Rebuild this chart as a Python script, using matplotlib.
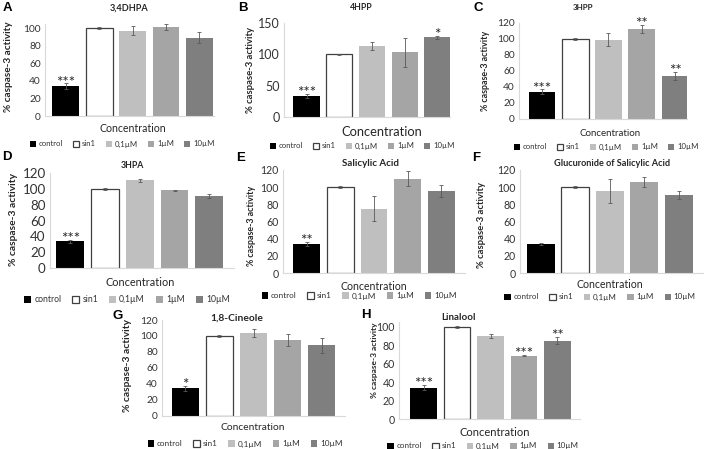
import matplotlib
matplotlib.use("Agg")
import matplotlib.pyplot as plt
from matplotlib.patches import Patch

# data
groups = ["control", "sin1", "0,1µM", "1µM", "10µM"]
titles = ["3,4DHPA", "4HPP", "3HPP", "3HPA", "Salicylic Acid",
          "Glucuronide of Salicylic Acid", "1,8-Cineole", "Linalool"]
letters = ["A", "B", "C", "D", "E", "F", "G", "H"]

mean_A = [34, 100, 97, 101, 89]
err_A = [3, 1, 5, 3, 6]
star_A = ["***", "", "", "", ""]

mean_B = [34, 100, 113, 103, 127]
err_B = [3, 1, 6, 23, 3]
star_B = ["***", "", "", "", "*"]

mean_C = [34, 100, 99, 113, 54]
err_C = [3, 1, 8, 5, 5]
star_C = ["***", "", "", "**", "**"]

mean_D = [34, 100, 111, 98, 91]
err_D = [2, 1, 2, 1, 2]
star_D = ["***", "", "", "", ""]

mean_E = [34, 100, 75, 110, 96]
err_E = [2, 1, 15, 9, 7]
star_E = ["**", "", "", "", ""]

mean_F = [34, 100, 96, 106, 91]
err_F = [1, 1, 14, 6, 5]
star_F = ["", "", "", "", ""]

mean_G = [34, 100, 104, 95, 88]
err_G = [3, 1, 5, 8, 9]
star_G = ["*", "", "", "", ""]

mean_H = [34, 100, 90, 69, 85]
err_H = [3, 1, 2, 1, 4]
star_H = ["***", "", "", "***", "**"]

means = [mean_A, mean_B, mean_C, mean_D, mean_E, mean_F, mean_G, mean_H]
errs = [err_A, err_B, err_C, err_D, err_E, err_F, err_G, err_H]
stars = [star_A, star_B, star_C, star_D, star_E, star_F, star_G, star_H]

# layout in pixels: axes left, right, y of zero, y of top, xlim, ylim top, top tick, step
axes_px = [
    (45, 214.5, 116, 23.6, -0.62, 4.45, 105, 100, 20),
    (284, 450, 117, 23, -0.69, 4.39, 150, 150, 50),
    (519, 687, 119, 23, -0.69, 4.36, 120, 120, 20),
    (50, 234, 268, 173, -0.58, 4.71, 120, 120, 20),
    (283, 465, 273, 170, -0.71, 4.71, 120, 120, 20),
    (520, 703, 273, 170, -0.60, 4.70, 120, 120, 20),
    (162, 345, 415.5, 320, -0.68, 4.68, 120, 120, 20),
    (399, 580, 419, 322.4, -0.74, 4.68, 105, 100, 20),
]
# text positions (pixels): letter, title, ylabel, concentration, legend centre
letter_px = [(3, 8), (238, 8), (474, 8), (2, 157), (236, 158), (472, 158), (112, 316), (361, 315)]
title_px = [(129, 8), (361, 7), (583, 7), (132, 165), (371, 164), (612, 164), (237, 318), (458, 317)]
ylab_px = [(9, 67), (250, 70), (486, 71), (14, 220), (251, 226), (482, 225), (127, 366), (374, 360)]
conc_px = [(133, 128), (382, 132), (610, 133), (140, 283), (374, 286), (610, 285), (253, 427.5), (495, 432)]
leg_px = [(122, 144), (362, 146), (606, 147), (127, 300), (359, 296), (600, 297), (245, 444), (483, 446)]
# font sizes: ticks, ylabel, title, concentration, legend
sizes = [
    (7.3, 7.2, 6.6, 7.6, 5.6),
    (9.0, 6.8, 6.3, 9.3, 5.6),
    (7.3, 6.4, 5.8, 7.0, 5.6),
    (9.6, 7.4, 6.3, 7.8, 6.2),
    (7.6, 6.4, 7.0, 7.6, 5.9),
    (7.6, 6.8, 6.6, 7.6, 5.8),
    (7.3, 7.4, 7.4, 7.4, 5.9),
    (7.6, 6.0, 7.0, 8.0, 5.8),
]

colors = ["#000000", "#ffffff", "#bfbfbf", "#a5a5a5", "#7f7f7f"]
edges = ["#000000", "#404040", "#bfbfbf", "#a5a5a5", "#7f7f7f"]
widths = [0, 0.9, 0, 0, 0]

plt.rcParams["font.family"] = ["Lato", "DejaVu Sans"]
W, H = 708, 449
fig = plt.figure(figsize=(W / 100, H / 100), dpi=100)


def fx(x):
    return x / W


def fy(y):
    return 1 - y / H


handles = [Patch(facecolor=c, edgecolor=e, linewidth=lw)
           for c, e, lw in zip(colors, edges, widths)]

for k in range(8):
    L, R, y0, yt, lo, hi, ytop, tmax, step = axes_px[k]
    ts, ys, tts, cs, ls = sizes[k]
    ax = fig.add_axes([fx(L), fy(y0), (R - L) / W, (y0 - yt) / H])
    x = range(len(groups))
    ax.bar(x, means[k], width=0.8, color=colors, edgecolor=edges,
           linewidth=widths, zorder=2)
    ax.errorbar(x, means[k], yerr=errs[k], fmt="none", ecolor="#595959",
                elinewidth=0.6, capsize=1.4, capthick=0.6, zorder=3)
    for i, s in enumerate(stars[k]):
        if s:
            ax.annotate(s, (i, means[k][i] + errs[k][i]), xytext=(0, -4.5),
                        textcoords="offset points", ha="center", va="bottom",
                        fontsize=11, color="#262626")
    ax.set_xlim(lo, hi)
    ax.set_ylim(0, ytop)
    ax.set_yticks(range(0, tmax + 1, step))
    ax.set_xticks([])
    ax.tick_params(axis="y", length=0, pad=3, labelsize=ts, colors="#333333")
    for sp in ["top", "right"]:
        ax.spines[sp].set_visible(False)
    for sp in ["left", "bottom"]:
        ax.spines[sp].set_color("#d9d9d9")
        ax.spines[sp].set_linewidth(0.8)

    fig.text(fx(letter_px[k][0]), fy(letter_px[k][1]), letters[k],
             ha="left", va="center", fontsize=9.5, fontweight="bold",
             family=["Liberation Sans", "DejaVu Sans"])
    fig.text(fx(title_px[k][0]), fy(title_px[k][1]), titles[k],
             ha="center", va="center", fontsize=tts, fontweight="bold",
             color="#262626")
    fig.text(fx(ylab_px[k][0]), fy(ylab_px[k][1]), "% caspase-3 activity",
             ha="center", va="center", rotation=90, fontsize=ys,
             fontweight="bold", color="#262626")
    fig.text(fx(conc_px[k][0]), fy(conc_px[k][1]), "Concentration",
             ha="center", va="center", fontsize=cs, color="#262626")
    fig.legend(handles, groups, loc="center",
               bbox_to_anchor=(fx(leg_px[k][0]), fy(leg_px[k][1])),
               ncol=5, frameon=False, fontsize=ls, handlelength=0.8,
               handleheight=0.8, handletextpad=0.35, columnspacing=1.3,
               borderpad=0, labelcolor="#333333")

fig.savefig("out.png", dpi=100)
